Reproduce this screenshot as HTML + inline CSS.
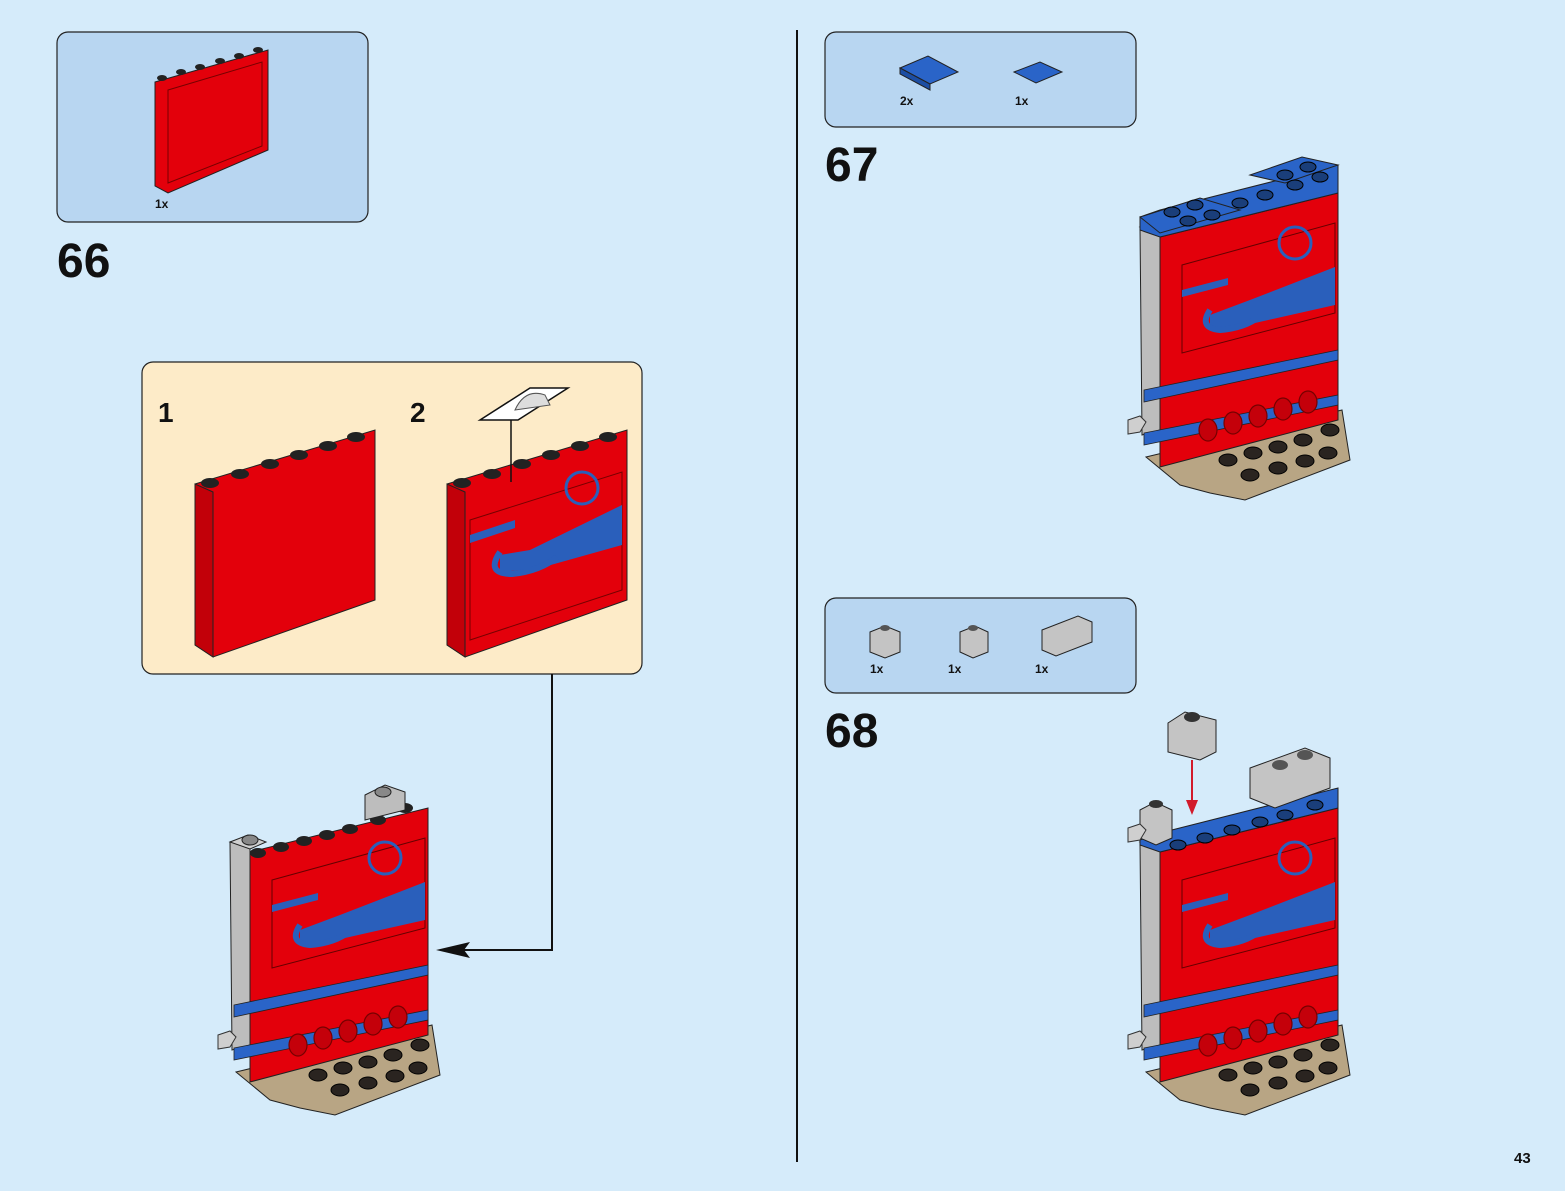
<!DOCTYPE html>
<html><head><meta charset="utf-8"><style>
html,body{margin:0;padding:0;background:#d5ebfa;}
svg{display:block;font-family:"Liberation Sans",sans-serif;}
</style></head><body>
<svg width="1565" height="1191" viewBox="0 0 1565 1191" xmlns="http://www.w3.org/2000/svg">
<defs>
<g id="model">
  <!-- base -->
  <polygon points="236,1072 432,1025 440,1075 335,1115 300,1108 270,1100" fill="#b8a584" stroke="#222" stroke-width="1"/>
  <!-- gray column -->
  <polygon points="230,842 250,836 250,1045 232,1050" fill="#bdbdbd" stroke="#222" stroke-width="1"/>
  <polygon points="230,842 248,835 266,842 250,849" fill="#d0d0d0" stroke="#222" stroke-width="1"/>
  <!-- front red -->
  <polygon points="250,852 428,808 428,1035 250,1082" fill="#e3000b" stroke="#222" stroke-width="1"/>
  <!-- sticker -->
  <polygon points="272,880 425,838 425,928 272,968" fill="#e3000b" stroke="#600" stroke-width="1"/>
  <polygon points="340,915 425,882 425,920 345,938 300,945 300,930" fill="#2a5fbb"/>
  <polygon points="272,905 318,893 318,900 272,912" fill="#2a5fbb"/>
  <path d="M300,925 q-12,18 10,20 q25,-2 40,-14" fill="none" stroke="#2a5fbb" stroke-width="6"/>
  <circle cx="385" cy="858" r="16" fill="none" stroke="#2a5fbb" stroke-width="3"/>
  <!-- blue stripes -->
  <polygon points="234,1005 428,965 428,975 234,1017" fill="#2a64c8" stroke="#222" stroke-width="0.8"/>
  <polygon points="234,1048 428,1010 428,1020 234,1060" fill="#2a64c8" stroke="#222" stroke-width="0.8"/>
  <!-- red round studs -->
  <g fill="#c4000a" stroke="#700" stroke-width="1.2">
    <ellipse cx="298" cy="1045" rx="9" ry="11"/><ellipse cx="323" cy="1038" rx="9" ry="11"/>
    <ellipse cx="348" cy="1031" rx="9" ry="11"/><ellipse cx="373" cy="1024" rx="9" ry="11"/>
    <ellipse cx="398" cy="1017" rx="9" ry="11"/>
  </g>
  <!-- base studs -->
  <g fill="#2a2420" stroke="#000">
    <ellipse cx="318" cy="1075" rx="9" ry="6"/><ellipse cx="343" cy="1068" rx="9" ry="6"/>
    <ellipse cx="368" cy="1062" rx="9" ry="6"/><ellipse cx="393" cy="1055" rx="9" ry="6"/>
    <ellipse cx="340" cy="1090" rx="9" ry="6"/><ellipse cx="368" cy="1083" rx="9" ry="6"/>
    <ellipse cx="395" cy="1076" rx="9" ry="6"/><ellipse cx="418" cy="1068" rx="9" ry="6"/>
    <ellipse cx="420" cy="1045" rx="9" ry="6"/>
  </g>
  <!-- clip -->
  <path d="M218,1035 l12,-4 l6,6 l-6,10 l-12,2 z" fill="#cfcfcf" stroke="#333"/>
</g>
</defs>

<!-- divider -->
<line x1="797" y1="30" x2="797" y2="1162" stroke="#111" stroke-width="2"/>

<!-- Step 66 parts -->
<rect x="57" y="32" width="311" height="190" rx="11" fill="#b8d6f1" stroke="#222" stroke-width="1.2"/>
<polygon points="155,82 268,50 268,150 168,193 155,186" fill="#e3000b" stroke="#222"/>
<polygon points="168,90 262,62 262,146 168,183" fill="none" stroke="#700"/>
<g fill="#222"><ellipse cx="162" cy="78" rx="5" ry="3"/><ellipse cx="181" cy="72" rx="5" ry="3"/><ellipse cx="200" cy="67" rx="5" ry="3"/><ellipse cx="220" cy="61" rx="5" ry="3"/><ellipse cx="239" cy="56" rx="5" ry="3"/><ellipse cx="258" cy="50" rx="5" ry="3"/></g>
<text x="155" y="208" font-size="12" font-weight="bold" fill="#111">1x</text>
<text x="57" y="277" font-size="48" font-weight="bold" fill="#111">66</text>

<!-- yellow callout -->
<rect x="142" y="362" width="500" height="312" rx="11" fill="#fdebc8" stroke="#222" stroke-width="1.2"/>
<text x="158" y="422" font-size="28" font-weight="bold" fill="#111">1</text>
<text x="410" y="422" font-size="28" font-weight="bold" fill="#111">2</text>
<g>
<polygon points="195,484 375,430 375,600 213,657 195,645" fill="#e3000b" stroke="#222"/>
<polygon points="195,484 213,492 213,657 195,645" fill="#c20009" stroke="#222"/>
<g fill="#222"><ellipse cx="210" cy="483" rx="9" ry="5"/><ellipse cx="240" cy="474" rx="9" ry="5"/><ellipse cx="270" cy="464" rx="9" ry="5"/><ellipse cx="299" cy="455" rx="9" ry="5"/><ellipse cx="328" cy="446" rx="9" ry="5"/><ellipse cx="356" cy="437" rx="9" ry="5"/></g>
</g>
<g>
<polygon points="447,484 627,430 627,600 465,657 447,645" fill="#e3000b" stroke="#222"/>
<polygon points="447,484 465,492 465,657 447,645" fill="#c20009" stroke="#222"/>
<polygon points="470,520 622,472 622,590 470,640" fill="none" stroke="#700"/>
<polygon points="530,550 622,505 622,545 540,568 500,572 500,555" fill="#2a5fbb"/>
<polygon points="470,535 515,520 515,528 470,543" fill="#2a5fbb"/>
<path d="M500,552 q-15,22 12,22 q28,-3 45,-17" fill="none" stroke="#2a5fbb" stroke-width="6"/>
<circle cx="582" cy="488" r="16" fill="none" stroke="#2a5fbb" stroke-width="3"/>
<g fill="#222"><ellipse cx="462" cy="483" rx="9" ry="5"/><ellipse cx="492" cy="474" rx="9" ry="5"/><ellipse cx="522" cy="464" rx="9" ry="5"/><ellipse cx="551" cy="455" rx="9" ry="5"/><ellipse cx="580" cy="446" rx="9" ry="5"/><ellipse cx="608" cy="437" rx="9" ry="5"/></g>
<line x1="511" y1="420" x2="511" y2="482" stroke="#111" stroke-width="1.5"/>
<polygon points="480,420 530,388 568,388 518,420" fill="#fff" stroke="#111" stroke-width="1.5"/>
<path d="M515,410 q10,-22 30,-15 l5,10 z" fill="#ddd" stroke="#555"/>
</g>

<!-- connector -->
<polyline points="552,674 552,950 445,950" fill="none" stroke="#111" stroke-width="2"/>
<polygon points="436,950 470,942 464,950 470,958" fill="#111"/>

<!-- model 66 -->
<use href="#model"/>
<g fill="#222">
<ellipse cx="258" cy="853" rx="8" ry="5"/><ellipse cx="281" cy="847" rx="8" ry="5"/><ellipse cx="304" cy="841" rx="8" ry="5"/><ellipse cx="327" cy="835" rx="8" ry="5"/><ellipse cx="350" cy="829" rx="8" ry="5"/><ellipse cx="378" cy="820" rx="8" ry="5"/><ellipse cx="405" cy="808" rx="8" ry="5"/>
</g>
<polygon points="365,795 385,785 405,792 405,810 365,820" fill="#bdbdbd" stroke="#222"/>
<ellipse cx="383" cy="792" rx="8" ry="5" fill="#888" stroke="#222"/>
<ellipse cx="250" cy="840" rx="8" ry="5" fill="#888" stroke="#222"/>

<!-- Step 67 parts -->
<rect x="825" y="32" width="311" height="95" rx="11" fill="#b8d6f1" stroke="#222" stroke-width="1.2"/>
<polygon points="900,68 928,56 958,72 930,84" fill="#2a64c8" stroke="#222"/>
<polygon points="900,68 930,84 930,90 900,74" fill="#1d4ea3" stroke="#222"/>
<polygon points="1014,72 1040,62 1062,72 1036,83" fill="#2a64c8" stroke="#222"/>
<text x="900" y="105" font-size="12" font-weight="bold" fill="#111">2x</text>
<text x="1015" y="105" font-size="12" font-weight="bold" fill="#111">1x</text>
<text x="825" y="181" font-size="48" font-weight="bold" fill="#111">67</text>

<g transform="translate(910,-615)">
<use href="#model"/>
<polygon points="230,832 250,825 428,780 428,808 250,852 230,845" fill="#2a64c8" stroke="#222"/>
<polygon points="230,832 290,813 330,825 250,848" fill="#2a64c8" stroke="#222"/>
<polygon points="340,790 392,772 428,780 375,798" fill="#2a64c8" stroke="#222"/>
<g fill="#1a3e7a" stroke="#000"><ellipse cx="262" cy="827" rx="8" ry="5"/><ellipse cx="285" cy="820" rx="8" ry="5"/><ellipse cx="278" cy="836" rx="8" ry="5"/><ellipse cx="302" cy="830" rx="8" ry="5"/><ellipse cx="330" cy="818" rx="8" ry="5"/><ellipse cx="355" cy="810" rx="8" ry="5"/><ellipse cx="375" cy="790" rx="8" ry="5"/><ellipse cx="398" cy="782" rx="8" ry="5"/><ellipse cx="385" cy="800" rx="8" ry="5"/><ellipse cx="410" cy="792" rx="8" ry="5"/></g>
</g>

<!-- Step 68 parts -->
<rect x="825" y="598" width="311" height="95" rx="11" fill="#b8d6f1" stroke="#222" stroke-width="1.2"/>
<polygon points="870,632 885,626 900,632 900,652 885,658 870,652" fill="#c4c4c4" stroke="#222"/>
<ellipse cx="885" cy="628" rx="5" ry="3" fill="#555"/>
<polygon points="960,632 975,626 988,632 988,652 973,658 960,652" fill="#c4c4c4" stroke="#222"/>
<ellipse cx="973" cy="628" rx="5" ry="3" fill="#555"/>
<polygon points="1042,630 1078,616 1092,622 1092,642 1056,656 1042,650" fill="#c4c4c4" stroke="#222"/>
<text x="870" y="673" font-size="12" font-weight="bold" fill="#111">1x</text>
<text x="948" y="673" font-size="12" font-weight="bold" fill="#111">1x</text>
<text x="1035" y="673" font-size="12" font-weight="bold" fill="#111">1x</text>
<text x="825" y="747" font-size="48" font-weight="bold" fill="#111">68</text>

<g transform="translate(910,0)">
<use href="#model"/>
<polygon points="230,840 250,833 428,788 428,808 250,852 230,845" fill="#2a64c8" stroke="#222"/>
<g fill="#1a3e7a" stroke="#000"><ellipse cx="268" cy="845" rx="8" ry="5"/><ellipse cx="295" cy="838" rx="8" ry="5"/><ellipse cx="322" cy="830" rx="8" ry="5"/><ellipse cx="350" cy="822" rx="8" ry="5"/><ellipse cx="375" cy="815" rx="8" ry="5"/><ellipse cx="405" cy="805" rx="8" ry="5"/></g>
<polygon points="230,810 245,802 262,810 262,838 246,845 230,838" fill="#c4c4c4" stroke="#222"/>
<ellipse cx="246" cy="804" rx="7" ry="4" fill="#333"/>
<polygon points="340,768 395,748 420,758 420,788 365,808 340,798" fill="#c4c4c4" stroke="#222"/>
<ellipse cx="370" cy="765" rx="8" ry="5" fill="#555"/><ellipse cx="395" cy="755" rx="8" ry="5" fill="#555"/>
<path d="M218,828 l12,-4 l6,6 l-6,10 l-12,2 z" fill="#cfcfcf" stroke="#333"/>
</g>
<polygon points="1168,723 1185,712 1216,720 1216,752 1200,760 1168,752" fill="#c4c4c4" stroke="#222"/>
<ellipse cx="1192" cy="717" rx="8" ry="5" fill="#333"/>
<line x1="1192" y1="760" x2="1192" y2="805" stroke="#d21a2a" stroke-width="2"/>
<polygon points="1186,800 1198,800 1192,815" fill="#d21a2a"/>

<text x="1514" y="1163" font-size="15" font-weight="bold" fill="#111">43</text>
</svg>
</body></html>
